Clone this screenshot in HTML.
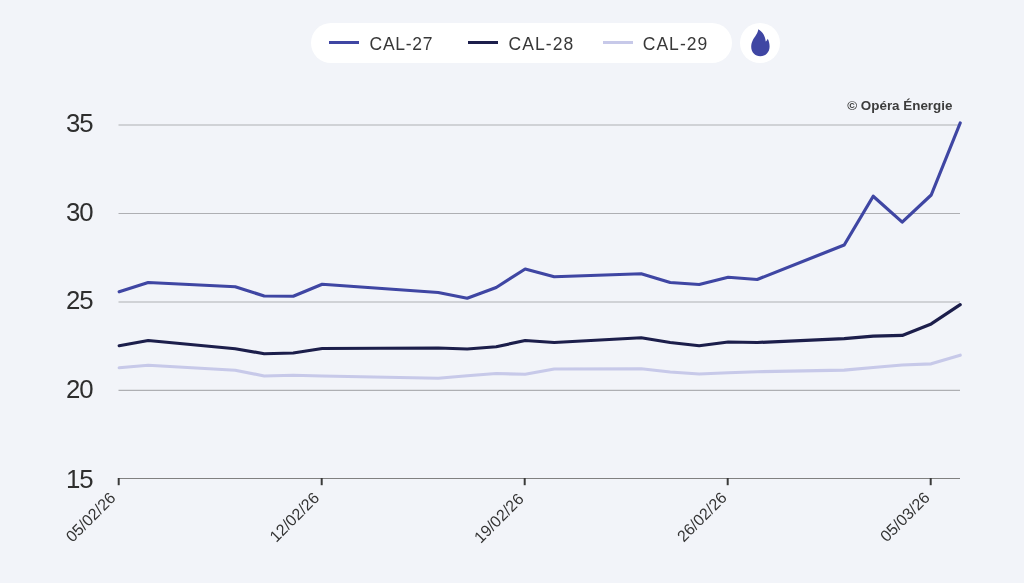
<!DOCTYPE html>
<html lang="fr"><head><meta charset="utf-8"><title>CAL</title>
<style>
html,body{margin:0;padding:0}
body{width:1024px;height:583px;overflow:hidden;background:#f2f4f9;position:relative;font-family:"Liberation Sans",sans-serif}
.legend{position:absolute;left:311px;top:23.3px;width:421px;height:39.6px;border-radius:20px;background:#fff}
.li{position:absolute;top:0;height:40px}
.li i{position:absolute;top:17.6px;left:0;width:30px;height:3px;display:block}
.li span{position:absolute;left:40.5px;top:0;line-height:42px;font-size:17.5px;color:#383838;white-space:nowrap;letter-spacing:1.1px}
.ic{position:absolute;left:740px;top:23.3px;width:40px;height:40px;border-radius:50%;background:#fff}
svg{position:absolute;left:0;top:0;will-change:transform}
.legend,.ic{will-change:transform}
.yl{font-size:25.8px;fill:#2e2e2e;text-anchor:end;letter-spacing:-1.2px}
.xl{font-size:16px;fill:#333;text-anchor:end}
.cr{font-size:13.4px;font-weight:bold;fill:#3c3c3c;text-anchor:end}
</style></head><body>
<div class="legend">
<div class="li" style="left:18px"><i style="background:#3f46a3"></i><span style="letter-spacing:0.75px">CAL-27</span></div>
<div class="li" style="left:157px"><i style="background:#1c1e4b"></i><span>CAL-28</span></div>
<div class="li" style="left:292px"><i style="background:#c7c9e9"></i><span style="left:39.7px;letter-spacing:1.05px">CAL-29</span></div>
</div>
<div class="ic"><svg width="40" height="40" viewBox="0 0 40 40"><path fill="#3f46a3" d="M18.2 6.2 C18.2 10 14.6 13.6 12.9 17 C11.8 19.2 11.2 21.4 11.2 23.8 C11.2 29.4 15.1 33.3 20.3 33.3 C25.6 33.3 29.6 29.3 29.6 23.6 C29.6 20.4 28.8 17.6 27.7 15.7 C27.4 16.9 26.7 17.9 25.7 18.5 C25.4 13.2 22.6 8.6 18.2 6.2 Z"/></svg></div>
<svg width="1024" height="583" viewBox="0 0 1024 583">

<line x1="118.5" x2="960" y1="125.05" y2="125.05" stroke="#aeafb3" stroke-width="1.1"/>
<line x1="118.5" x2="960" y1="213.5" y2="213.5" stroke="#aeafb3" stroke-width="1.1"/>
<line x1="118.5" x2="960" y1="301.95" y2="301.95" stroke="#aeafb3" stroke-width="1.1"/>
<line x1="118.5" x2="960" y1="390.4" y2="390.4" stroke="#aeafb3" stroke-width="1.1"/>
<line x1="118.5" x2="960" y1="478.5" y2="478.5" stroke="#808080" stroke-width="1"/>
<line x1="118.7" x2="118.7" y1="478.0" y2="485.2" stroke="#3a3a3a" stroke-width="2"/>
<text class="xl" transform="translate(108.7,491.2) rotate(-45)" x="0" y="0" dy="11">05/02/26</text>
<line x1="321.7" x2="321.7" y1="478.0" y2="485.2" stroke="#3a3a3a" stroke-width="2"/>
<text class="xl" transform="translate(312.4,491.1) rotate(-45)" x="0" y="0" dy="11">12/02/26</text>
<line x1="524.7" x2="524.7" y1="478.0" y2="485.2" stroke="#3a3a3a" stroke-width="2"/>
<text class="xl" transform="translate(516.9,492.3) rotate(-45)" x="0" y="0" dy="11">19/02/26</text>
<line x1="727.7" x2="727.7" y1="478.0" y2="485.2" stroke="#3a3a3a" stroke-width="2"/>
<text class="xl" transform="translate(720.0,491.0) rotate(-45)" x="0" y="0" dy="11">26/02/26</text>
<line x1="930.7" x2="930.7" y1="478.0" y2="485.2" stroke="#3a3a3a" stroke-width="2"/>
<text class="xl" transform="translate(923.0,491.0) rotate(-45)" x="0" y="0" dy="11">05/03/26</text>
<text class="yl" x="92.4" y="132.35">35</text>
<text class="yl" x="92.4" y="221.15">30</text>
<text class="yl" x="92.4" y="309.05">25</text>
<text class="yl" x="92.4" y="398.05">20</text>
<text class="yl" x="92.4" y="487.75">15</text>
<text class="cr" x="952.4" y="109.5">© Opéra Énergie</text>
<path d="M119.2,367.75 L148.2,365.25 L235.2,370.25 L264.2,376.00 L293.2,375.25 L322.2,376.00 L438.2,378.25 L467.2,375.75 L496.2,373.50 L525.2,374.25 L554.2,369.00 L641.2,368.75 L670.2,372.00 L699.2,374.00 L728.2,372.75 L757.2,371.75 L844.2,370.20 L873.2,367.50 L902.2,365.00 L931.2,363.80 L960.2,355.20" fill="none" stroke="#c7c9e9" stroke-width="3.2" stroke-linecap="round" stroke-linejoin="round"/>
<path d="M119.2,345.75 L148.2,340.50 L235.2,348.75 L264.2,353.75 L293.2,353.00 L322.2,348.50 L438.2,348.00 L467.2,349.00 L496.2,346.75 L525.2,340.50 L554.2,342.50 L641.2,337.75 L670.2,342.50 L699.2,345.75 L728.2,342.00 L757.2,342.50 L844.2,338.70 L873.2,336.20 L902.2,335.40 L931.2,323.90 L960.2,304.70" fill="none" stroke="#1c1e4b" stroke-width="3.2" stroke-linecap="round" stroke-linejoin="round"/>
<path d="M119.2,291.75 L148.2,282.50 L235.2,286.75 L264.2,296.00 L293.2,296.25 L322.2,284.25 L438.2,292.50 L467.2,298.25 L496.2,287.50 L525.2,269.00 L554.2,276.75 L641.2,273.75 L670.2,282.50 L699.2,284.50 L728.2,277.25 L757.2,279.50 L844.2,245.00 L873.2,196.20 L902.2,222.10 L931.2,195.00 L960.2,123.00" fill="none" stroke="#3f46a3" stroke-width="3.2" stroke-linecap="round" stroke-linejoin="round"/>
</svg>
</body></html>
